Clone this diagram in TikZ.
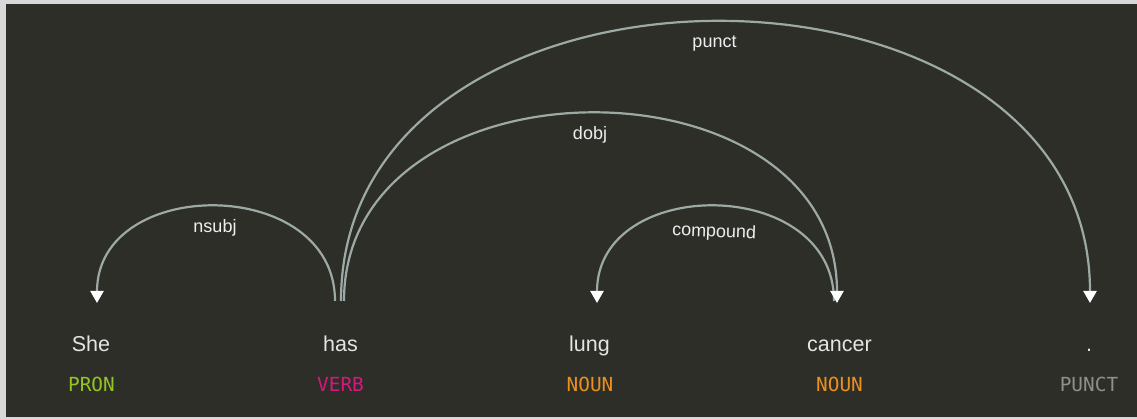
\documentclass[tikz,border=0pt]{standalone}
\usepackage{fontspec}
\setmainfont{Liberation Sans}
\newfontfamily\tagfont{DejaVu Sans Mono}
\usetikzlibrary{arrows.meta}
\definecolor{bgdark}{HTML}{2D2E28}
\definecolor{framegray}{HTML}{D8D8D8}
\definecolor{arcgray}{HTML}{9DA9A4}
\definecolor{wordcol}{HTML}{E4E4E4}
\definecolor{labcol}{HTML}{EEEEEE}
\definecolor{pron}{HTML}{96C423}
\definecolor{verb}{HTML}{D4187E}
\definecolor{noun}{HTML}{EB8F1E}
\definecolor{punctcol}{HTML}{8C918C}
\tikzset{
  word/.style={anchor=base, text=wordcol, font=\fontsize{21.5}{24}\selectfont, inner sep=0},
  postag/.style={anchor=base, font=\tagfont\fontsize{19.4}{22}\selectfont, inner sep=0},
  arclabel/.style={anchor=base, text=labcol, font=\fontsize{18}{20}\selectfont, inner sep=0},
  deparc/.style={draw=arcgray, line width=2.2pt},
  arrowed/.style={-{Triangle[width=13pt,length=12pt,color=white,fill=white]}}
}
\begin{document}
\begin{tikzpicture}[x=1pt,y=-1pt]
\useasboundingbox (0,0) rectangle (1137,419);
\fill[framegray] (0,0) rectangle (1137,419);
\fill[bgdark] (6,4) rectangle (1137,417);

% words
\node[word] (w1) at (91,352) {She};
\node[word] (w2) at (340.5,352) {has};
\node[word] (w3) at (589.5,352) {lung};
\node[word] (w4) at (839.5,352) {cancer};
\node[word] (w5) at (1089,352) {.};
% tags
\node[postag, text=pron] (t1) at (91.5,391.5) {PRON};
\node[postag, text=verb] (t2) at (340.5,391.5) {VERB};
\node[postag, text=noun] (t3) at (590,391.5) {NOUN};
\node[postag, text=noun] (t4) at (839.5,391.5) {NOUN};
\node[postag, text=punctcol] (t5) at (1089,391.5) {PUNCT};

% arc end points
\coordinate (sheIn) at (97,303);
\coordinate (hasOutA) at (335,301);
\coordinate (hasOutB) at (341,301);
\coordinate (hasOutC) at (344,301);
\coordinate (lungIn) at (597,303);
\coordinate (cancerOut) at (834,301);
\coordinate (cancerIn) at (837,303);
\coordinate (dotIn) at (1090,303);

% arcs
\draw[deparc, arrowed] (hasOutA) .. controls +(0,-126) and +(0,-128) .. (sheIn);
\draw[deparc, arrowed] (cancerOut) .. controls +(0,-126) and +(0,-128) .. (lungIn);
\draw[deparc, arrowed] (hasOutC) .. controls +(0,-250) and +(0,-252) .. (cancerIn);
\draw[deparc, arrowed] (hasOutB) .. controls +(0,-372) and +(0,-374) .. (dotIn);

% labels
\node[arclabel] (l1) at (215,233) {nsubj};
\node[arclabel, rotate=-2] (l2) at (714,237) {compound};
\node[arclabel] (l3) at (590,140) {dobj};
\node[arclabel] (l4) at (714.5,48) {punct};
\end{tikzpicture}
\end{document}
